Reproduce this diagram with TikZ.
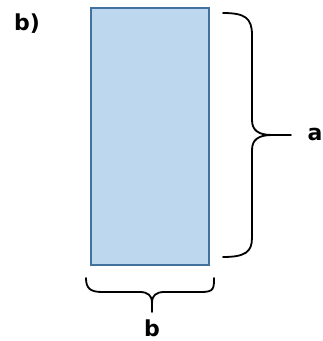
\documentclass[tikz,border=0pt]{standalone}
\usepackage{fontspec}
\setmainfont{DejaVu Sans}
\usepackage{tikz}
\usepackage{xcolor}
\definecolor{boxfill}{HTML}{BDD7EE}
\definecolor{boxline}{HTML}{41719C}

\begin{document}
\begin{tikzpicture}[
    x=1pt, y=-1pt,
    panel/.style={rectangle, draw=boxline, fill=boxfill, line width=1.6pt,
                  minimum width=118pt, minimum height=257pt, inner sep=0pt},
    brace/.style={line width=1.8pt, black, line cap=round},
    tag/.style={font=\bfseries\fontsize{22}{26}\selectfont, inner sep=0pt}
]
\useasboundingbox (0,0) rectangle (323,341);

% ---- Panel and labels ----
\node[panel] (box) at (150,136.5) {};
\node[tag] (title) at (27,24) {b)};
\node[tag] (lbla) at (315,134) {a};
\node[tag] (lblb) at (152,328) {b};

% ======== Right brace (height a) ========
\coordinate (tipa) at (291,135);
\draw[brace] (223,13) .. controls (245,13) and (252,18) .. (252,35) -- (252,120)
    .. controls (252,130) and (258,135) .. (272,135) -- (tipa);
\draw[brace] (272,135) .. controls (258,135) and (252,140) .. (252,150) -- (252,238)
    .. controls (252,252) and (245,257) .. (223,257);

% ======== Bottom brace (width b) ========
\coordinate (tipb) at (152,312);
\draw[brace] (86,278) .. controls (86,288) and (90,292) .. (102,292) -- (140,292)
    .. controls (148,292) and (152,296) .. (152,302) -- (tipb);
\draw[brace] (152,302) .. controls (152,296) and (156,292) .. (164,292) -- (202,292)
    .. controls (214,292) and (214,288) .. (214,278);

\end{tikzpicture}
\end{document}
